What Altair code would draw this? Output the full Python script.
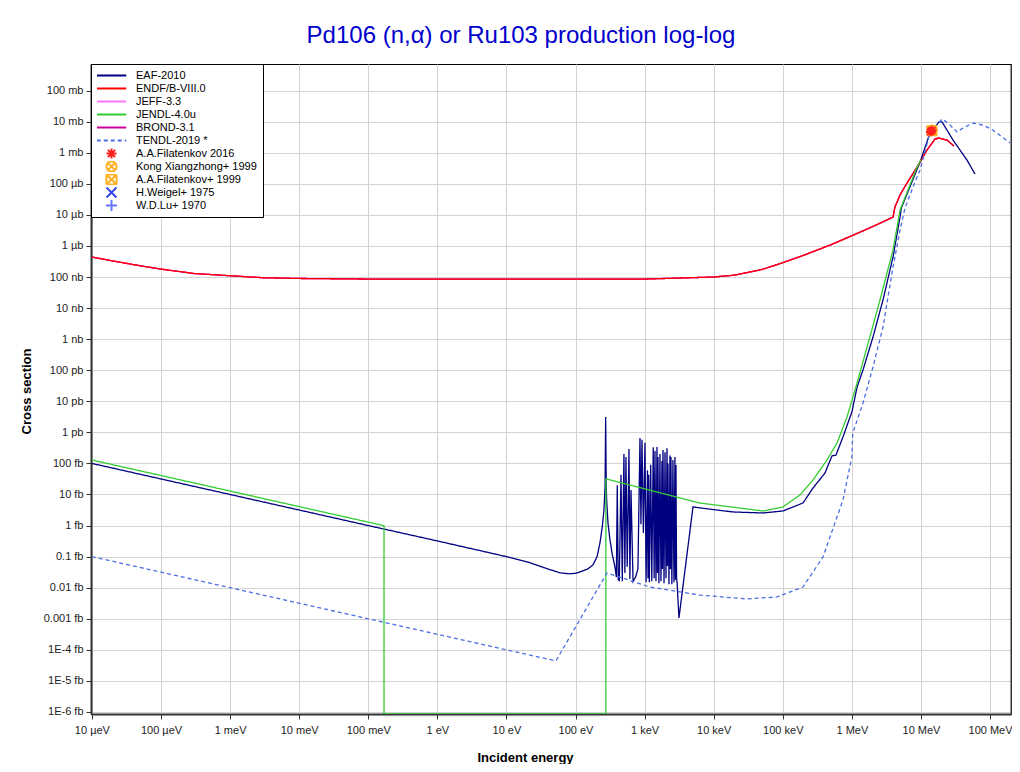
import json
import altair as alt
import pandas as pd

FONT = "Liberation Sans"

# ---------------- data (E in eV, cross section in barns) ----------------
eaf_energy = [1e-5, 1e-3, 0.1, 1, 10, 20, 40, 60, 80, 100, 120, 150, 179, 205, 226, 245, 258, 268,
              273, 278, 282, 295, 315, 340, 372, 390, 402, 415, 430, 455, 475, 502, 518, 537, 560,
              594, 612, 635, 680, 740, 800, 857, 885, 916, 960, 1012, 1050, 1100, 1120, 1146, 1170,
              1225, 1270, 1334, 1375, 1413, 1460, 1510, 1535, 1561, 1610, 1668, 1725, 1783, 1812,
              1845, 1910, 1972, 2040, 2109, 2140, 2178, 2250, 2328, 2365, 2404, 2480, 2570, 2660,
              2748, 2795, 2844, 2900, 2950, 3141, 5012, 6340, 1.9e4,
              5.16e4, 1.007e5, 1.96e5, 2.74e5, 4.08e5, 5.15e5, 5.89e5, 7.43e5, 1.0e6, 1.19e6,
              1.45e6, 2.02e6, 2.82e6, 3.94e6, 4.98e6, 5.2e6, 9.69e6, 1.35e7, 1.82e7, 2.02e7,
              2.91e7, 4.64e7, 6.05e7]
eaf_xs = [1.0e-13, 1.0e-14, 1.0e-15, 3.2e-16, 1.0e-16, 6.8e-17, 4.0e-17, 3.0e-17, 2.8e-17, 2.9e-17,
          3.3e-17, 4.0e-17, 5.4e-17, 1.0e-16, 2.8e-16, 1.0e-15, 3.2e-15, 2.0e-14,
          3.1e-12, 2.0e-14, 6.6e-15, 1.2e-15, 3.5e-16, 1.2e-16, 4.7e-17, 2.2e-17, 2.0e-14, 1.8e-17,
          1.7e-17, 4.3e-14, 1.6e-17, 2.0e-13, 3.0e-17, 1.6e-13, 4.7e-17,
          2.9e-13, 1.9e-17, 1.4e-14, 1.6e-17, 2.2e-17, 4.0e-17, 6.6e-13, 1.1e-15, 5.8e-13, 5.8e-16,
          4.6e-13, 1.5e-17, 6.0e-14, 2.0e-17, 4.3e-14, 1.5e-17,
          9.0e-14, 1.6e-17, 3.3e-13, 2.0e-17, 2.5e-13, 1.6e-17, 3.4e-13, 3.0e-17, 1.6e-13, 1.4e-17,
          2.0e-13, 1.6e-17, 1.2e-13, 4.0e-17,
          2.7e-13, 1.4e-17, 2.3e-13, 2.0e-17, 3.1e-13, 5.0e-17, 1.0e-13, 1.3e-17, 1.8e-13, 4.0e-17,
          1.6e-13, 1.3e-17, 1.3e-13, 1.5e-17,
          1.6e-13, 1.8e-17, 8.9e-14, 2.0e-17, 1.5e-17, 1.06e-18, 4.0e-15, 3.7e-15, 2.74e-15,
          2.54e-15, 2.95e-15, 5.33e-15, 1.62e-14, 4.92e-14, 1.74e-13, 1.87e-13, 7.1e-13, 4.53e-12,
          2.88e-11, 1.02e-10, 1.17e-9, 1.82e-8, 4.4e-7, 8.6e-6, 1.67e-5, 5.0e-4, 4.3e-3, 9.8e-3,
          9.8e-3, 2.57e-3, 5.8e-4, 2.07e-4]

endf_energy = [1e-5, 2e-5, 5e-5, 1e-4, 3e-4, 1e-3, 3e-3, 1e-2, 1e-1, 10, 1e3, 1e4, 2e4, 5e4, 1e5,
               2e5, 5e5, 1.03e6, 2e6, 3.94e6, 4.2e6, 4.98e6, 6.28e6, 8.77e6, 9.69e6, 1.22e7, 1.6e7,
               1.82e7, 2.38e7, 3.0e7]
endf_xs = [4.4e-7, 3.3e-7, 2.3e-7, 1.8e-7, 1.3e-7, 1.1e-7, 9.5e-8, 9.0e-8, 8.6e-8, 8.5e-8, 8.6e-8,
           1.0e-7, 1.15e-7, 1.75e-7, 2.9e-7, 5.0e-7, 1.1e-6, 2.2e-6, 4.2e-6, 8.5e-6, 1.79e-5,
           4.37e-5, 1.06e-4, 3.43e-4, 5.0e-4, 1.22e-3, 2.77e-3, 2.98e-3, 2.57e-3, 1.65e-3]

# JEFF-3.3 and BROND-3.1 lie under the ENDF/B-VIII.0 curve
jeff_energy = list(endf_energy)
jeff_xs = list(endf_xs)
brond_energy = list(endf_energy)
brond_xs = list(endf_xs)

Y_MIN, Y_MAX = 8.6e-22, 0.72   # plot range; zero cross sections are drawn at the bottom
X_MIN, X_MAX = 9.7e-6, 2.01e8

jendl_energy = [1e-5, 1e-3, 0.1, 0.169, 0.169, 275, 275, 6340, 5.16e4, 1.0e5, 1.77e5, 2.74e5,
                4.36e5, 6.1e5, 8.5e5, 1.19e6, 1.66e6, 2.55e6, 3.94e6, 4.98e6, 8.77e6, 1.0e7]
jendl_xs = [1.29e-13, 1.29e-14, 1.29e-15, 9.9e-16, Y_MIN, Y_MIN, 3.2e-14, 5.3e-15, 2.94e-15,
            3.96e-15, 9.6e-15, 2.93e-14, 1.29e-13, 4.55e-13, 3.13e-12, 3.88e-11, 5.6e-10,
            1.82e-8, 7.4e-7, 1.44e-5, 3.43e-4, 6.0e-4]

tendl_energy = [1e-5, 1e-3, 0.1, 10, 52, 285, 1197, 6340, 3.03e4, 8.24e4, 1.96e5, 3.82e5, 7.43e5,
                1.0e6, 1.03e6, 1.45e6, 2.02e6, 2.82e6, 3.94e6, 4.98e6, 5.87e6, 7.67e6, 9.69e6,
                1.35e7, 2.02e7, 2.46e7, 3.33e7, 4.06e7, 5.66e7, 7.9e7, 1.1e8, 1.95e8]
tendl_xs = [1.0e-16, 1.0e-17, 1.0e-18, 1.0e-19, 4.4e-20, 2.98e-17, 1.05e-17, 5.8e-18, 4.34e-18,
            5.03e-18, 1.05e-17, 9.75e-17, 6.65e-15, 1.61e-13, 9.5e-13, 8.8e-12, 1.27e-10, 2.46e-9,
            2.1e-7, 3.26e-6, 1.66e-5, 7.9e-5, 2.79e-4, 4.3e-3, 1.22e-2, 9.06e-3, 4.65e-3, 6.25e-3,
            9.06e-3, 7.8e-3, 5.4e-3, 2.06e-3]

exp_series = ["H.Weigel+ 1975", "W.D.Lu+ 1970", "Kong Xiangzhong+ 1999", "A.A.Filatenkov+ 1999",
              "A.A.Filatenkov 2016", "A.A.Filatenkov 2016", "A.A.Filatenkov 2016"]
exp_energy = [1.41e7, 1.42e7, 1.46e7, 1.44e7, 1.37e7, 1.41e7, 1.45e7]
exp_xs = [5.0e-3, 5.0e-3, 5.4e-3, 5.1e-3, 4.7e-3, 5.0e-3, 5.3e-3]

series_names = ["EAF-2010", "ENDF/B-VIII.0", "JEFF-3.3", "JENDL-4.0u", "BROND-3.1", "TENDL-2019 *",
                "A.A.Filatenkov 2016", "Kong Xiangzhong+ 1999", "A.A.Filatenkov+ 1999",
                "H.Weigel+ 1975", "W.D.Lu+ 1970"]
series_colors = ["#000080", "#ff0000", "#ff77ff", "#33cc33", "#cc0099", "#4a6fe3",
                 "#ff2020", "#ffb020", "#ffb020", "#3344ee", "#6677ff"]
series_dashes = [[1, 0], [1, 0], [1, 0], [1, 0], [1, 0], [4, 3],
                 [1, 0], [1, 0], [1, 0], [1, 0], [1, 0]]
series_widths = [2, 2, 2, 2, 2, 2, 1.1, 1.1, 1.1, 1.1, 1.1]
LINE_PATH = "M-2.95,0L2.95,0"
series_shapes = [LINE_PATH] * 6 + [
    "M-1,0L1,0M0,-1L0,1M-0.72,-0.72L0.72,0.72M-0.72,0.72L0.72,-0.72",
    "M1,0A1,1,0,1,1,-1,0A1,1,0,1,1,1,0ZM-0.7,-0.7L0.7,0.7M-0.7,0.7L0.7,-0.7",
    "M-1,-1L1,-1L1,1L-1,1ZM-1,-1L1,1M-1,1L1,-1",
    "M-1,-1L1,1M-1,1L1,-1",
    "M-1.1,0L1.1,0M0,-1.1L0,1.1",
]

x_tick_values = [1e-5, 1e-4, 1e-3, 1e-2, 1e-1, 1, 10, 100, 1e3, 1e4, 1e5, 1e6, 1e7, 1e8]
x_tick_labels = ["10 µeV", "100 µeV", "1 meV", "10 meV", "100 meV", "1 eV", "10 eV", "100 eV",
                 "1 keV", "10 keV", "100 keV", "1 MeV", "10 MeV", "100 MeV"]
y_tick_values = [1e-21, 1e-20, 1e-19, 1e-18, 1e-17, 1e-16, 1e-15, 1e-14, 1e-13, 1e-12, 1e-11,
                 1e-10, 1e-9, 1e-8, 1e-7, 1e-6, 1e-5, 1e-4, 1e-3, 1e-2, 1e-1]
y_tick_labels = ["1E-6 fb", "1E-5 fb", "1E-4 fb", "0.001 fb", "0.01 fb", "0.1 fb", "1 fb",
                 "10 fb", "100 fb", "1 pb", "10 pb", "100 pb", "1 nb", "10 nb", "100 nb", "1 µb",
                 "10 µb", "100 µb", "1 mb", "10 mb", "100 mb"]

# ---------------- tables ----------------
curves = {
    "EAF-2010": (eaf_energy, eaf_xs),
    "ENDF/B-VIII.0": (endf_energy, endf_xs),
    "JEFF-3.3": (jeff_energy, jeff_xs),
    "JENDL-4.0u": (jendl_energy, jendl_xs),
    "BROND-3.1": (brond_energy, brond_xs),
    "TENDL-2019 *": (tendl_energy, tendl_xs),
}
rows = []
for name, (es, vs) in curves.items():
    for i, (e, v) in enumerate(zip(es, vs)):
        rows.append({"series": name, "E": e, "xs": v, "i": i})
lines_df = pd.DataFrame(rows)
points_df = pd.DataFrame({"series": exp_series, "E": exp_energy, "xs": exp_xs})

x_scale = alt.Scale(type="log", domain=[X_MIN, X_MAX], nice=False)
y_scale = alt.Scale(type="log", domain=[Y_MIN, Y_MAX], nice=False)
color_scale = alt.Scale(domain=series_names, range=series_colors)
dash_scale = alt.Scale(domain=series_names, range=series_dashes)
shape_scale = alt.Scale(domain=series_names, range=series_shapes)
width_scale = alt.Scale(domain=series_names, range=series_widths)

x_axis = alt.Axis(
    values=x_tick_values,
    labelExpr=json.dumps(x_tick_labels, ensure_ascii=False) + "[round(log(datum.value)/LN10)+5]",
    title="Incident energy", grid=True, gridColor="#d3d3d3", gridWidth=1,
    tickSize=5, tickColor="#333333", domainColor="#333333", domainWidth=2,
    labelFont=FONT, labelFontSize=11, labelColor="#222222", labelPadding=5,
    labelFlush=False, labelOverlap=False,
    titleFont=FONT, titleFontSize=13, titleFontWeight="bold", titleColor="#000000",
    titleX=434, titleY=43, titleBaseline="middle", titleAlign="center", titleAnchor="start",
)
y_axis = alt.Axis(
    values=y_tick_values,
    labelExpr=json.dumps(y_tick_labels, ensure_ascii=False) + "[round(log(datum.value)/LN10)+21]",
    title="Cross section", grid=True, gridColor="#d3d3d3", gridWidth=1,
    tickSize=5, tickColor="#333333", domainColor="#333333", domainWidth=2,
    labelFont=FONT, labelFontSize=11, labelColor="#222222", labelPadding=3,
    labelOverlap=False, labelFlush=False,
    titleFont=FONT, titleFontSize=13, titleFontWeight="bold", titleColor="#000000",
    titleX=-65, titleY=327, titleAngle=270, titleBaseline="middle", titleAlign="center",
    titleAnchor="start",
)
y_axis_right = alt.Axis(
    orient="right", values=y_tick_values, labels=False, title=None, grid=False,
    tickSize=4, tickColor="#333333", domainColor="#333333", domainWidth=2,
)

draw_order = ["JEFF-3.3", "BROND-3.1", "EAF-2010", "ENDF/B-VIII.0", "JENDL-4.0u", "TENDL-2019 *"]
layers = []
for k, name in enumerate(draw_order):
    first = k == 0
    layer = alt.Chart(lines_df).transform_filter(alt.datum.series == name).mark_line(
        strokeWidth=1.3, clip=True
    ).encode(
        x=alt.X("E:Q", scale=x_scale, axis=x_axis),
        y=alt.Y("xs:Q", scale=y_scale, axis=y_axis if first else None),
        color=alt.Color("series:N", scale=color_scale, legend=alt.Legend(title=None)),
        strokeDash=alt.StrokeDash("series:N", scale=dash_scale, legend=alt.Legend(title=None)),
        order=alt.Order("i:Q"),
    )
    layers.append(layer)

points = alt.Chart(points_df).mark_point(filled=False, size=80, clip=True, opacity=1).encode(
    x=alt.X("E:Q", scale=x_scale, axis=x_axis),
    y=alt.Y("xs:Q", scale=y_scale, axis=y_axis_right),
    color=alt.Color("series:N", scale=color_scale, legend=alt.Legend(title=None)),
    shape=alt.Shape("series:N", scale=shape_scale, legend=alt.Legend(title=None)),
    strokeWidth=alt.StrokeWidth("series:N", scale=width_scale, legend=alt.Legend(title=None)),
)
layers.append(points)

chart = alt.layer(*layers).resolve_axis(y="independent").properties(
    width=920, height=650,
    autosize=alt.AutoSizeParams(type="none"),
    padding={"left": 83, "top": 56, "right": 1, "bottom": 50},
    background="white",
    title=alt.TitleParams(
        text="Pd106 (n,α) or Ru103 production log-log", font=FONT, fontSize=24,
        fontWeight="normal", color="#0000cc", anchor="middle", dx=-30, offset=20, dy=23,
        baseline="alphabetic",
    ),
).configure_view(stroke="#000000", strokeWidth=1).configure_legend(
    orient="none", legendX=0, legendY=0, padding=6, fillColor="white", strokeColor="#000000",
    labelFont=FONT, labelFontSize=11, labelColor="#000000", labelOffset=18.5,
    symbolSize=100, symbolOffset=8.5, symbolStrokeWidth=2, rowPadding=1, clipHeight=11,
    symbolFillColor="transparent",
)

chart.save("out.html", embed_options={"renderer": "svg", "actions": False})
